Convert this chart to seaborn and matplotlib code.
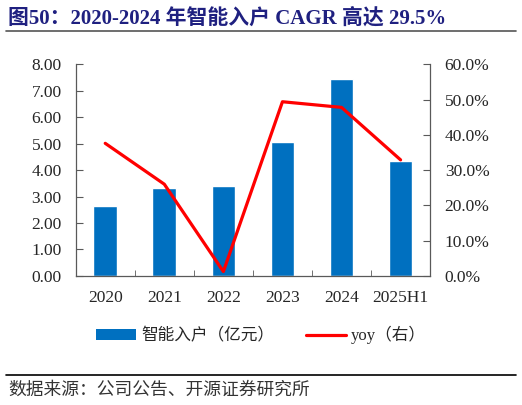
import numpy as np
import pandas as pd
import matplotlib
matplotlib.use("Agg")
import matplotlib.pyplot as plt
import seaborn as sns
from matplotlib.patches import Patch
from matplotlib.lines import Line2D
from matplotlib.ticker import FuncFormatter, MultipleLocator

years = ["2020", "2021", "2022", "2023", "2024", "2025H1"]
revenue = [2.66, 3.34, 3.38, 5.05, 7.46, 4.36]      # 智能入户（亿元）
yoy = [37.6, 26.0, 1.2, 49.4, 47.8, 32.9]            # %

title = "图50：2020-2024 年智能入户 CAGR 高达 29.5%"
bar_label = "智能入户（亿元）"
line_label = "yoy（右）"
source = "数据来源：公司公告、开源证券研究所"

sns.set_style("white")
fonts = ["Liberation Serif", "Noto Sans CJK SC"]
plt.rcParams["font.family"] = fonts

df = pd.DataFrame({"year": years, "revenue": revenue, "yoy": yoy})

fig = plt.figure(figsize=(5.22, 4.05), dpi=100)
ax = fig.add_axes([0.145, 0.319, 0.679, 0.522])

sns.barplot(data=df, x="year", y="revenue", color="#0070C0", saturation=1,
            width=0.4, ax=ax)
ax.set_xlim(-0.5, len(years) - 0.5)
ax.set_ylim(0, 8)
ax.yaxis.set_major_locator(MultipleLocator(1))
ax.yaxis.set_major_formatter(FuncFormatter(lambda v, p: f"{v:.2f}"))
ax.set_xlabel("")
ax.set_ylabel("")

ax2 = ax.twinx()
sns.lineplot(x=np.arange(len(years)), y=df["yoy"], color="#FF0000",
             linewidth=2.3, ax=ax2)
ax2.set_ylim(0, 60)
ax2.yaxis.set_major_locator(MultipleLocator(10))
ax2.yaxis.set_major_formatter(FuncFormatter(lambda v, p: f"{v:.1f}%"))
ax2.set_ylabel("")

spine_col = "#595959"
for a in (ax, ax2):
    for s in a.spines.values():
        s.set_visible(False)
ax.spines["left"].set_visible(True)
ax.spines["bottom"].set_visible(True)
ax2.spines["right"].set_visible(True)
for a in (ax, ax2):
    for s in a.spines.values():
        s.set_color(spine_col)
        s.set_linewidth(0.9)

ax.set_xticks(np.arange(len(years)))
ax.set_xticklabels(years)
ax.xaxis.set_minor_locator(matplotlib.ticker.FixedLocator(np.arange(0.5, len(years) - 0.5, 1)))
ax.tick_params(axis="x", which="major", length=0, pad=10, labelsize=12.5)
ax.tick_params(axis="x", which="minor", direction="in", length=4, color=spine_col, bottom=True)
ax.tick_params(axis="y", direction="in", length=5, color=spine_col, left=True, labelsize=12.5, pad=10)
ax2.tick_params(axis="y", direction="in", length=5, color=spine_col, right=True, labelsize=12.5, pad=10.5)

fig.text(0.015, 0.955, title, fontsize=15, fontweight="bold", color="#1F2080",
         va="center", ha="left", family=fonts)
fig.add_artist(Line2D([0.012, 0.988], [0.923, 0.923], color="#555555", linewidth=1.2))

handles = [Patch(facecolor="#0070C0", edgecolor="none", label=bar_label),
           Line2D([], [], color="#FF0000", linewidth=2.3, label=line_label)]
fig.legend(handles=handles, loc="center", bbox_to_anchor=(0.5, 0.172), ncol=2,
           frameon=False, fontsize=12, handlelength=2.4, handleheight=0.6,
           handletextpad=0.3, columnspacing=1.9)

fig.add_artist(Line2D([0.012, 0.988], [0.074, 0.074], color="#000000", linewidth=1.2))
fig.text(0.015, 0.037, source, fontsize=12.8, color="#333333", va="center", ha="left",
         family=fonts)

fig.savefig("out.png", dpi=100)
